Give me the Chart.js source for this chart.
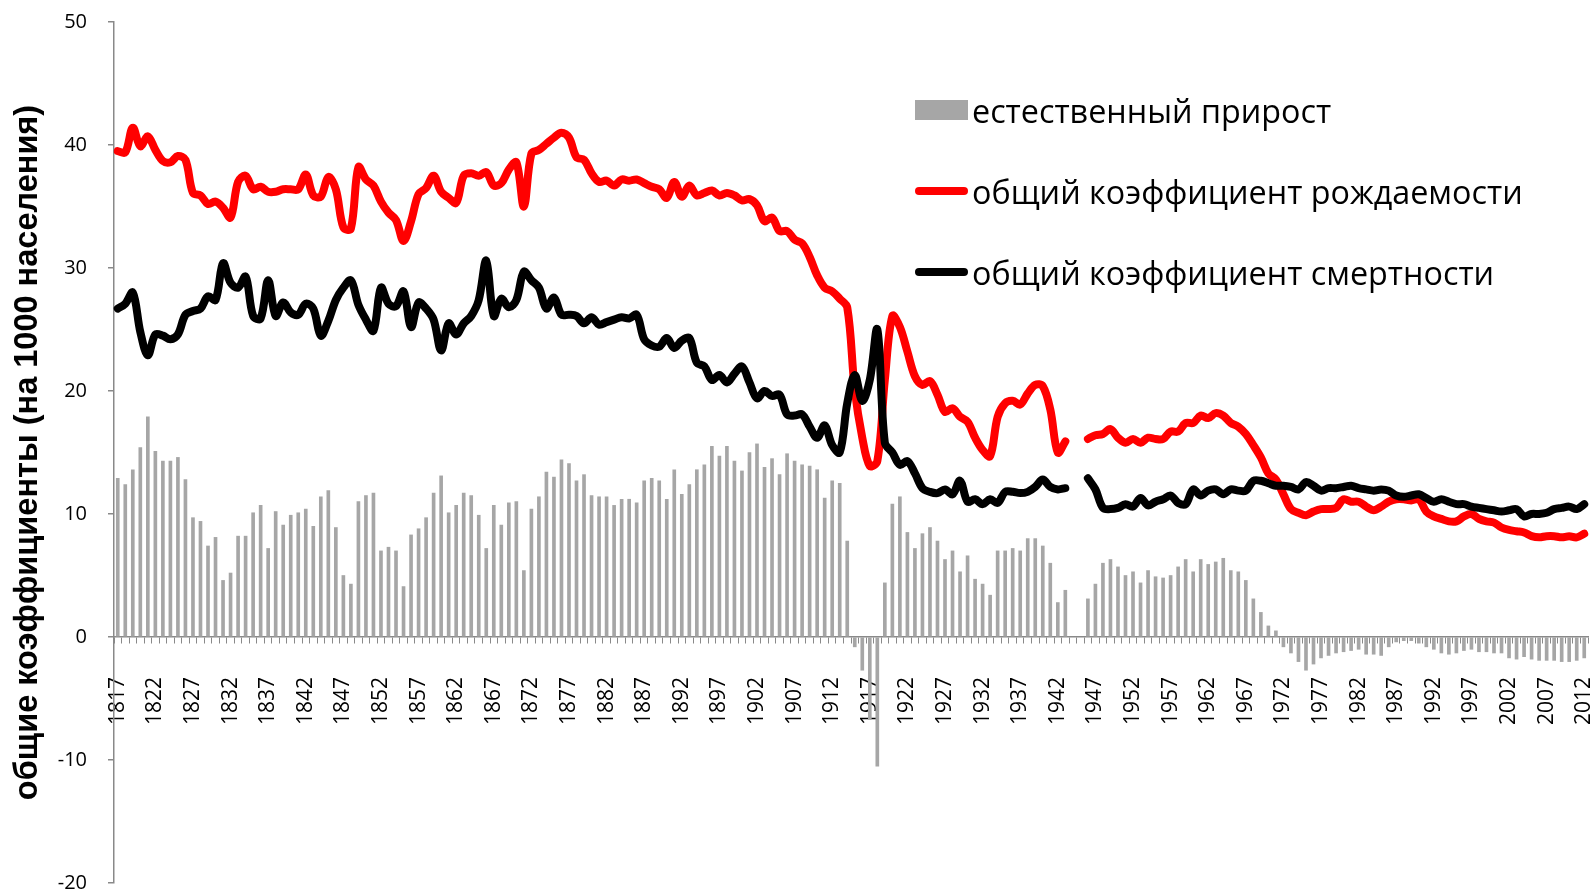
<!DOCTYPE html>
<html lang="ru">
<head>
<meta charset="utf-8">
<title>Рождаемость и смертность, 1817–2012</title>
<script src="https://cdn.jsdelivr.net/npm/chart.js@4.4.1/dist/chart.umd.min.js"></script>
<style>
  body { margin: 0; background: #fff; }
  #wrap { position: relative; width: 1594px; height: 894px; }
  #legend { position: absolute; left: 0; top: 0; font-family: "Open Sans", sans-serif; font-size: 32.3px; color: #000; }
  .item { position: absolute; left: 915px; height: 40px; line-height: 40px; white-space: nowrap; }
  .item span { position: absolute; left: 57px; top: 0; }
  .swatch { position: absolute; left: 0; }
  .box { top: 10px; width: 53px; height: 20px; background: #a6a6a6; }
  .line { top: 16px; width: 53px; height: 8px; border-radius: 4px; }
</style>
</head>
<body>
<div id="wrap">
  <canvas id="chart" width="1594" height="894"></canvas>
  <div id="legend">
    <div class="item" style="top: 90px;"><div class="swatch box"></div><span>естественный прирост</span></div>
    <div class="item" style="top: 171px;"><div class="swatch line" style="background:#ff0000"></div><span>общий коэффициент рождаемости</span></div>
    <div class="item" style="top: 252px;"><div class="swatch line" style="background:#000"></div><span>общий коэффициент смертности</span></div>
  </div>
</div>
<script>
// years 1817..2012, 1944-1945 missing
const firstYear = 1817;
const lastYear = 2012;
const years = [];
for (let y = firstYear; y <= lastYear; y++) years.push(String(y));

// общий коэффициент рождаемости (на 1000)
const birthRate = [
  39.5, 39.4, 41.4, 39.9, 40.7, 39.6, 38.7, 38.6, 39.1, 38.8, // 1817-1826
  36.1, 35.9, 35.2, 35.4, 34.9, 34.1, 37.0, 37.5, 36.4, 36.6, // 1827-1836
  36.2, 36.2, 36.4, 36.4, 36.4, 37.6, 35.9, 35.8, 37.4, 36.4, // 1837-1846
  33.3, 33.2, 38.2, 37.2, 36.7, 35.4, 34.5, 33.9, 32.2, 33.8, // 1847-1856
  36.0, 36.5, 37.5, 36.2, 35.7, 35.3, 37.5, 37.7, 37.5, 37.8, // 1857-1866
  36.7, 36.9, 38.0, 38.6, 35.0, 39.3, 39.6, 40.1, 40.6, 41.0, // 1867-1876
  40.6, 39.0, 38.8, 37.7, 37.0, 37.1, 36.7, 37.2, 37.1, 37.2, // 1877-1886
  36.9, 36.6, 36.4, 35.7, 37.0, 35.8, 36.7, 35.9, 36.1, 36.3, // 1887-1896
  35.9, 36.1, 35.9, 35.5, 35.6, 35.1, 33.8, 34.1, 33.0, 33.0, // 1897-1906
  32.3, 32.0, 30.9, 29.4, 28.4, 28.1, 27.5, 26.8, 20.1, 16.2, // 1907-1916
  13.9, 14.3, 20.9, 26.1, 25.2, 23.2, 21.2, 20.5, 20.8, 19.7, // 1917-1926
  18.3, 18.6, 17.9, 17.5, 16.2, 15.2, 14.7, 17.9, 19.0, 19.2, // 1927-1936
  18.9, 19.8, 20.5, 20.4, 18.5, 15.0, 15.9, null, null, 16.1, // 1937-1946
  16.4, 16.5, 16.9, 16.2, 15.8, 16.1, 15.8, 16.2, 16.1, 16.1, // 1947-1956
  16.7, 16.7, 17.4, 17.4, 18.0, 17.8, 18.2, 18.0, 17.4, 17.1, // 1957-1966
  16.5, 15.6, 14.6, 13.3, 12.8, 11.6, 10.4, 10.1, 9.9, 10.2,  // 1967-1976
  10.4, 10.4, 10.5, 11.2, 11.0, 11.0, 10.6, 10.3, 10.6, 11.0, // 1977-1986
  11.2, 11.2, 11.1, 11.2, 10.2, 9.8, 9.6, 9.4, 9.4, 9.8,      // 1987-1996
  10.0, 9.6, 9.4, 9.3, 8.9, 8.7, 8.6, 8.5, 8.2, 8.1,          // 1997-2006
  8.2, 8.2, 8.1, 8.2, 8.1, 8.4                                // 2007-2012
];

// общий коэффициент смертности (на 1000)
const deathRate = [
  26.7, 27.1, 28.0, 24.8, 22.9, 24.6, 24.5, 24.2, 24.6, 26.2, // 1817-1826
  26.5, 26.7, 27.7, 27.4, 30.4, 28.8, 28.4, 29.3, 26.1, 25.9, // 1827-1836
  29.0, 26.1, 27.2, 26.4, 26.2, 27.1, 26.7, 24.5, 25.7, 27.4, // 1837-1846
  28.4, 29.0, 27.0, 25.8, 24.9, 28.4, 27.1, 26.9, 28.1, 25.2, // 1847-1856
  27.2, 26.7, 25.8, 23.3, 25.5, 24.6, 25.5, 26.1, 27.4, 30.6, // 1857-1866
  26.1, 27.5, 26.8, 27.4, 29.7, 29.0, 28.4, 26.7, 27.6, 26.2, // 1867-1876
  26.2, 26.1, 25.5, 26.0, 25.4, 25.6, 25.8, 26.0, 25.9, 26.2, // 1877-1886
  24.2, 23.7, 23.6, 24.3, 23.5, 24.1, 24.3, 22.3, 22.0, 20.9, // 1887-1896
  21.3, 20.7, 21.4, 22.0, 20.7, 19.4, 20.0, 19.6, 19.7, 18.1, // 1897-1906
  18.0, 18.1, 17.1, 16.2, 17.2, 15.6, 15.0, 19.0, 21.3, 19.2, // 1907-1916
  20.9, 25.0, 15.8, 15.0, 14.0, 14.3, 13.3, 12.1, 11.8, 11.7, // 1917-1926
  12.0, 11.6, 12.7, 11.0, 11.2, 10.8, 11.2, 10.9, 11.8, 11.8, // 1927-1936
  11.7, 11.8, 12.2, 12.8, 12.2, 12.0, 12.1, null, null, 12.9, // 1937-1946
  12.0, 10.5, 10.4, 10.5, 10.8, 10.6, 11.3, 10.7, 11.0, 11.2, // 1947-1956
  11.5, 10.9, 10.8, 12.0, 11.5, 11.9, 12.0, 11.6, 12.0, 11.9, // 1957-1966
  11.9, 12.7, 12.7, 12.5, 12.3, 12.3, 12.2, 12.0, 12.6, 12.3, // 1967-1976
  11.9, 12.1, 12.1, 12.2, 12.3, 12.1, 12.0, 11.9, 12.0, 11.9, // 1977-1986
  11.5, 11.4, 11.5, 11.6, 11.3, 11.0, 11.2, 11.0, 10.8, 10.8, // 1987-1996
  10.6, 10.5, 10.4, 10.3, 10.2, 10.3, 10.4, 9.8, 10.0, 10.0,  // 1997-2006
  10.1, 10.4, 10.5, 10.6, 10.4, 10.8                          // 2007-2012
];

// естественный прирост (на 1000)
const naturalIncrease = [
  12.9, 12.4, 13.6, 15.4, 17.9, 15.1, 14.3, 14.3, 14.6, 12.8, // 1817-1826
  9.7, 9.4, 7.4, 8.1, 4.6, 5.2, 8.2, 8.2, 10.1, 10.7,         // 1827-1836
  7.2, 10.2, 9.1, 9.9, 10.1, 10.4, 9.0, 11.4, 11.9, 8.9,      // 1837-1846
  5.0, 4.3, 11.0, 11.5, 11.7, 7.0, 7.3, 7.0, 4.1, 8.3,        // 1847-1856
  8.8, 9.7, 11.7, 13.1, 10.1, 10.7, 11.7, 11.5, 9.9, 7.2,     // 1857-1866
  10.7, 9.1, 10.9, 11.0, 5.4, 10.4, 11.4, 13.4, 13.0, 14.4,   // 1867-1876
  14.1, 12.7, 13.2, 11.5, 11.4, 11.4, 10.7, 11.2, 11.2, 10.9, // 1877-1886
  12.7, 12.9, 12.7, 11.2, 13.6, 11.6, 12.4, 13.6, 14.0, 15.5, // 1887-1896
  14.7, 15.5, 14.3, 13.5, 15.0, 15.7, 13.8, 14.5, 13.2, 14.9, // 1897-1906
  14.3, 14.0, 13.9, 13.6, 11.3, 12.7, 12.5, 7.8, -0.8, -2.7,  // 1907-1916
  -6.7, -10.5, 4.4, 10.8, 11.4, 8.5, 7.2, 8.4, 8.9, 7.8,      // 1917-1926
  6.3, 7.0, 5.3, 6.6, 4.7, 4.3, 3.4, 7.0, 7.0, 7.2,           // 1927-1936
  7.0, 8.0, 8.0, 7.4, 6.0, 2.8, 3.8, null, null, 3.1,         // 1937-1946
  4.3, 6.0, 6.3, 5.7, 5.0, 5.3, 4.4, 5.4, 4.9, 4.8,           // 1947-1956
  5.0, 5.7, 6.3, 5.3, 6.3, 5.9, 6.1, 6.4, 5.4, 5.3,           // 1957-1966
  4.6, 3.1, 2.0, 0.9, 0.5, -0.8, -1.3, -2.0, -2.7, -2.2,      // 1967-1976
  -1.7, -1.5, -1.3, -1.2, -1.1, -1.0, -1.4, -1.4, -1.5, -0.8, // 1977-1986
  -0.4, -0.3, -0.3, -0.5, -0.8, -1.0, -1.3, -1.4, -1.3, -1.1, // 1987-1996
  -1.0, -1.2, -1.2, -1.3, -1.3, -1.7, -1.8, -1.6, -1.8, -1.9, // 1997-2006
  -1.9, -1.9, -2.0, -2.0, -1.9, -1.7                          // 2007-2012
];

const yTicks = { min: -20, max: 50, step: 10 };
const axisTitle = "общие коэффициенты (на 1000 населения)";
const labelEvery = 5;

const axisGray = "#898989";

window.addEventListener("DOMContentLoaded", () => {
  renderChart();
});

function renderChart() {
  const ctx = document.getElementById("chart").getContext("2d");

  new Chart(ctx, {
    data: {
      labels: years,
      datasets: [
        {
          type: "line",
          label: "общий коэффициент смертности",
          data: deathRate,
          borderColor: "#000000",
          borderWidth: 8,
          pointRadius: 0,
          tension: 0.35,
          borderCapStyle: "round",
          borderJoinStyle: "round",
          spanGaps: false,
          order: 1,
        },
        {
          type: "line",
          label: "общий коэффициент рождаемости",
          data: birthRate,
          borderColor: "#ff0000",
          borderWidth: 8,
          pointRadius: 0,
          tension: 0.35,
          borderCapStyle: "round",
          borderJoinStyle: "round",
          spanGaps: false,
          order: 2,
        },
        {
          type: "bar",
          label: "естественный прирост",
          data: naturalIncrease,
          backgroundColor: "#a6a6a6",
          barThickness: 3,
          order: 3,
        },
      ],
    },
    options: {
      responsive: false,
      animation: false,
      devicePixelRatio: 1,
      layout: { padding: { top: 22, right: 6, bottom: 11, left: 0 } },
      plugins: {
        legend: { display: false },
        tooltip: { enabled: false },
      },
      scales: {
        x: {
          type: "category",
          offset: true,
          position: { y: 0 },
          // rotated year labels shouldn't push the plot area in
          afterFit: (scale) => { scale.paddingLeft = 0; scale.paddingRight = 0; },
          grid: {
            drawOnChartArea: false,
            drawTicks: true,
            tickLength: 6,
            color: axisGray,
            lineWidth: 1,
          },
          border: { display: true, color: axisGray, width: 1.5 },
          ticks: {
            autoSkip: false,
            minRotation: 90,
            maxRotation: 90,
            padding: 34,
            color: "#000",
            font: { family: "Open Sans", size: 21 },
            callback: (value, index) => (index % labelEvery === 0 ? years[index] : ""),
          },
        },
        y: {
          position: "left",
          min: yTicks.min,
          max: yTicks.max,
          afterFit: (scale) => {
            scale.width = 114;
            scale.paddingTop = 0;
            scale.paddingBottom = 0;
          },
          grid: {
            drawOnChartArea: false,
            drawTicks: true,
            tickLength: 6,
            color: axisGray,
            lineWidth: 1.5,
          },
          border: { display: true, color: axisGray, width: 1.5 },
          ticks: {
            stepSize: yTicks.step,
            padding: 21,
            color: "#000",
            font: { family: "Open Sans", size: 20 },
          },
          title: {
            display: true,
            text: axisTitle,
            color: "#000",
            padding: { top: 9, bottom: 0 },
            font: { family: "Liberation Sans", size: 32.5, weight: "bold" },
          },
        },
      },
    },
  });
}
</script>
</body>
</html>
